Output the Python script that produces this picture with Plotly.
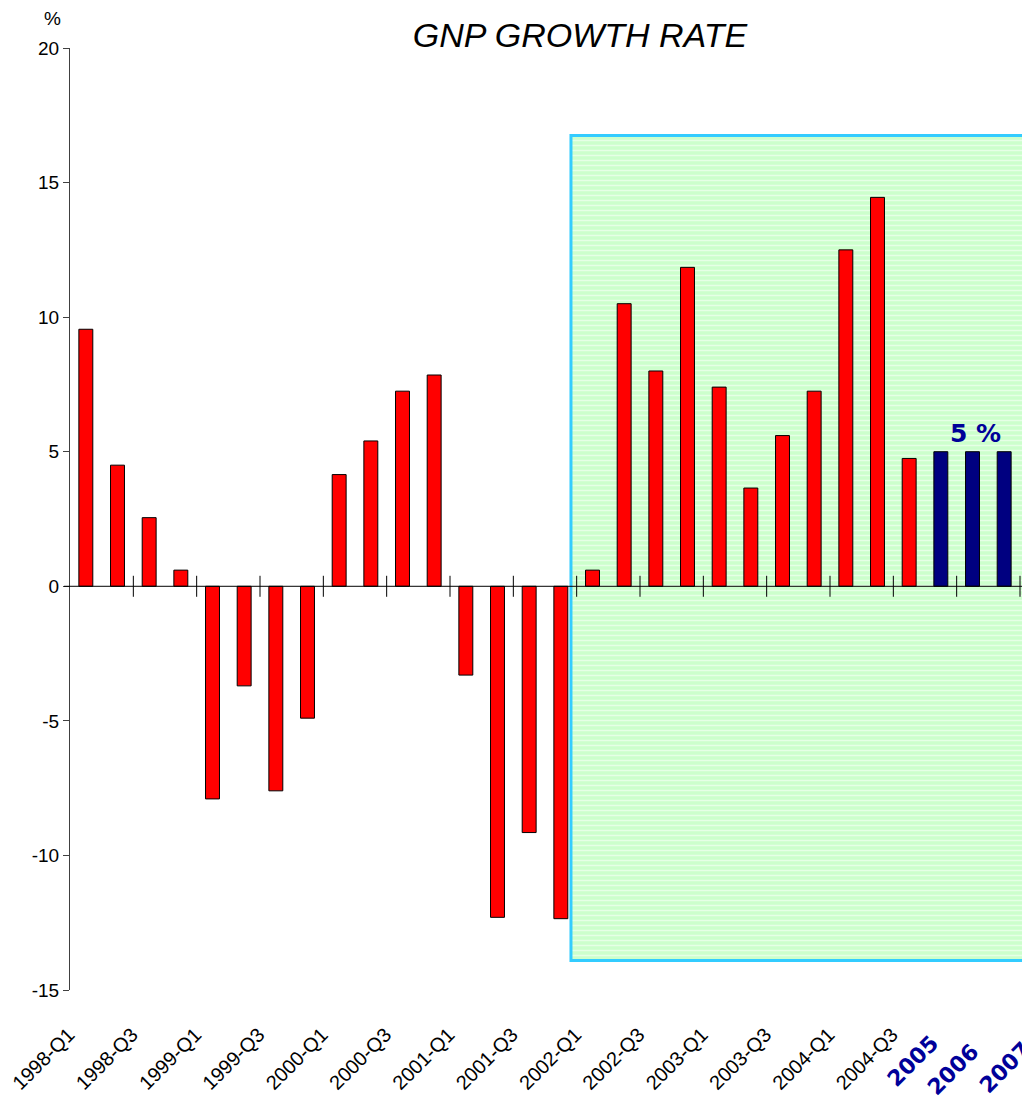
import plotly.graph_objects as go

# ---- data ----
quarters = [
    "1998-Q1", "1998-Q2", "1998-Q3", "1998-Q4",
    "1999-Q1", "1999-Q2", "1999-Q3", "1999-Q4",
    "2000-Q1", "2000-Q2", "2000-Q3", "2000-Q4",
    "2001-Q1", "2001-Q2", "2001-Q3", "2001-Q4",
    "2002-Q1", "2002-Q2", "2002-Q3", "2002-Q4",
    "2003-Q1", "2003-Q2", "2003-Q3", "2003-Q4",
    "2004-Q1", "2004-Q2", "2004-Q3",
]
quarter_values = [
    9.55, 4.5, 2.55, 0.6,
    -7.9, -3.7, -7.6, -4.9,
    4.15, 5.4, 7.25, 7.85,
    -3.3, -12.3, -9.15, -12.35,
    0.6, 10.5, 8.0, 11.85,
    7.4, 3.65, 5.6, 7.25,
    12.5, 14.45, 4.75,
]
forecast_years = ["2005", "2006", "2007"]
forecast_values = [5, 5, 5]
forecast_label = "5 %"
title_text = "GNP GROWTH RATE"
y_ticks = [-15, -10, -5, 0, 5, 10, 15, 20]
y_ticktext = [str(v) for v in y_ticks]   # plain hyphen minus signs

# ---- layout constants ----
W, H = 1026, 1100            # slightly wider than the window: right edge is cut off
ML, MR, MT, MB = 70, 2, 48, 110
PW, PH = W - ML - MR, H - MT - MB
UNIT_PX = 950 / 30           # pixels per category slot

n_q = len(quarters)
n_all = n_q + len(forecast_years)
x_q = list(range(n_q))
x_f = list(range(n_q, n_all))
X_RANGE = [-0.5, -0.5 + PW / UNIT_PX]
BAR_W = 0.44
HL_X0, HL_X1 = 15.32, n_all + 1.0      # highlight box (extends past right edge)
HL_Y0, HL_Y1 = -13.9, 16.75
Q_LABEL_SHIFT_PX = -17                 # rotated quarter labels sit left of their bar
YEAR_LABEL_DX = [-0.91, -0.62, 0.02]   # centre of rotated year labels (category units)
YEAR_LABEL_DY = [-71, -79, -77]        # px below plot bottom

q_tick_idx = [i for i in x_q if i % 2 == 0]

fig = go.Figure()

# highlight box (green, striped)
fig.add_trace(go.Bar(
    x=[(HL_X0 + HL_X1) / 2], y=[HL_Y1 - HL_Y0], base=[HL_Y0],
    width=[HL_X1 - HL_X0],
    marker=dict(color="#CCFFCC", line=dict(color="#33CCFF", width=3),
                pattern=dict(shape="-", bgcolor="#CCFFCC", fgcolor="#FFFFFF",
                             size=5, solidity=0.3)),
    hoverinfo="skip", showlegend=False,
))

fig.add_trace(go.Bar(
    x=x_q, y=quarter_values, width=BAR_W,
    marker=dict(color="#FF0000", line=dict(color="#000000", width=1)),
    showlegend=False,
))
fig.add_trace(go.Bar(
    x=x_f, y=forecast_values, width=BAR_W,
    marker=dict(color="#000080", line=dict(color="#000000", width=1)),
    showlegend=False,
))

# tick marks on the zero line between category pairs
tick_x = [i + 1.5 for i in range(0, n_all, 2)]
fig.add_trace(go.Scatter(
    x=tick_x, y=[0] * len(tick_x), mode="markers",
    marker=dict(symbol="line-ns", size=15, line=dict(color="#000000", width=1)),
    hoverinfo="skip", showlegend=False, cliponaxis=False,
))

fig.add_shape(type="line", xref="paper", yref="y", x0=-6 / PW, x1=1, y0=0, y1=0,
              line=dict(color="#000000", width=1), layer="above")

fig.add_annotation(x=x_f[1], y=forecast_values[1], text=f"<b>{forecast_label}</b>",
                   showarrow=False, yanchor="bottom", yshift=2, xshift=3,
                   font=dict(family="DejaVu Sans", size=25, color="#000099"))

# bold year labels under the forecast bars
for xi, yr, dx, dy in zip(x_f, forecast_years, YEAR_LABEL_DX, YEAR_LABEL_DY):
    fig.add_annotation(x=xi + dx, y=0, xref="x", yref="paper", yshift=dy,
                       text=f"<b>{yr}</b>", textangle=-45, showarrow=False,
                       xanchor="center", yanchor="middle",
                       font=dict(family="DejaVu Sans", size=22, color="#000099"))

fig.add_annotation(x=(52 - ML) / PW, y=1 + (MT - 18) / PH, xref="paper", yref="paper",
                   text="%", showarrow=False, xanchor="center", yanchor="middle",
                   font=dict(family="Liberation Sans", size=19, color="#000000"))

fig.update_layout(
    width=W, height=H,
    margin=dict(l=ML, r=MR, t=MT, b=MB, autoexpand=False),
    paper_bgcolor="white", plot_bgcolor="white",
    barmode="overlay",
    title=dict(text=title_text, x=580 / W, xref="container", xanchor="center",
               y=1 - 35 / H, yref="container", yanchor="middle",
               font=dict(family="Liberation Sans", size=34, color="#000000", style="italic")),
    font=dict(family="Liberation Sans", color="#000000"),
)
fig.update_xaxes(
    range=X_RANGE, showgrid=False, zeroline=False, showline=False,
    automargin=False,
    tickmode="array", tickvals=q_tick_idx,
    ticktext=[quarters[i] for i in q_tick_idx], tickangle=-45,
    ticklabelshift=Q_LABEL_SHIFT_PX,
    ticks="outside", ticklen=24, tickcolor="rgba(0,0,0,0)",
    tickfont=dict(family="Liberation Sans", size=20, color="#000000"),
)
fig.update_yaxes(
    range=[-15, 20], showgrid=False, zeroline=False, automargin=False,
    showline=True, linecolor="#404040", linewidth=1,
    tickmode="array", tickvals=y_ticks, ticktext=y_ticktext,
    ticks="outside", ticklen=6, tickcolor="#404040",
    tickfont=dict(family="Liberation Sans", size=19, color="#000000"),
)

fig.write_html(
    "out.html",
    config={"displayModeBar": False},
    post_script="document.body.style.margin='0';document.body.style.overflow='hidden';",
)
